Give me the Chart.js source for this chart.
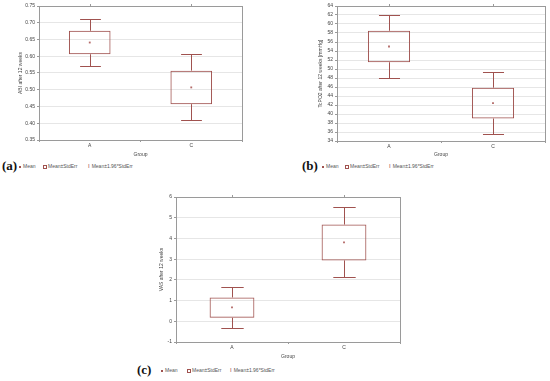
<!DOCTYPE html>
<html><head><meta charset="utf-8">
<script src="https://cdn.jsdelivr.net/npm/chart.js@4"></script>
<style>
html,body{margin:0;padding:0;background:#fff;width:550px;height:381px;overflow:hidden;position:relative;font-family:"Liberation Sans",Arial,sans-serif;}
.box{position:absolute;}
.lg{position:absolute;font-size:5px;color:#555;white-space:nowrap;line-height:6px;}
.tag{position:absolute;font-family:"Liberation Serif","DejaVu Serif",serif;font-weight:bold;font-size:13px;color:#111;}
.sq{display:inline-block;width:4px;height:4px;border:0.8px solid #a0524f;box-sizing:border-box;vertical-align:-0.5px;margin-right:1px;}
.dot{display:inline-block;width:2px;height:2px;background:#a0524f;vertical-align:0.5px;margin-right:2px;}
.ib{display:inline-block;font-size:6px;color:#a0524f;margin-right:2px;}
</style></head>
<body>
<div class="box" style="left:0;top:0;"><canvas id="ca" width="250" height="158"></canvas></div>
<div class="box" style="left:295px;top:0;"><canvas id="cb" width="255" height="158"></canvas></div>
<div class="box" style="left:130px;top:190px;"><canvas id="cc" width="280" height="170"></canvas></div>

<div class="tag" style="left:2px;top:158px;">(a)</div>
<div class="lg" style="left:19px;top:163px;"><span class="dot"></span>Mean</div>
<div class="lg" style="left:43px;top:163px;"><span class="sq"></span>Mean±StdErr</div>
<div class="lg" style="left:88px;top:163px;"><span class="ib">I</span>Mean±1.96*StdErr</div>

<div class="tag" style="left:302px;top:158px;">(b)</div>
<div class="lg" style="left:322px;top:163px;"><span class="dot"></span>Mean</div>
<div class="lg" style="left:345px;top:163px;"><span class="sq"></span>Mean±StdErr</div>
<div class="lg" style="left:389px;top:163px;"><span class="ib">I</span>Mean±1.96*StdErr</div>

<div class="tag" style="left:137px;top:362px;">(c)</div>
<div class="lg" style="left:161px;top:367px;"><span class="dot"></span>Mean</div>
<div class="lg" style="left:187px;top:367px;"><span class="sq"></span>Mean±StdErr</div>
<div class="lg" style="left:230px;top:367px;"><span class="ib">I</span>Mean±1.96*StdErr</div>

<script>
const categories = ['A', 'C'];

// (a) ABI after 12 weeks
const abiMean   = [0.641, 0.507];
const abiSeLow  = [0.606, 0.457];
const abiSeHigh = [0.676, 0.557];
const abiCiLow  = [0.572, 0.409];
const abiCiHigh = [0.710, 0.606];
const abiTicks  = [0.35, 0.40, 0.45, 0.50, 0.55, 0.60, 0.65, 0.70, 0.75];

// (b) TcPO2 after 12 weeks [mmHg]
const tcpMean   = [55.0, 42.4];
const tcpSeLow  = [51.5, 39.0];
const tcpSeHigh = [58.5, 45.85];
const tcpCiLow  = [48.1, 35.6];
const tcpCiHigh = [62.0, 49.3];
const tcpTicks  = [34, 36, 38, 40, 42, 44, 46, 48, 50, 52, 54, 56, 58, 60, 62, 64];

// (c) VAS after 12 weeks
const vasMean   = [0.67, 3.81];
const vasSeLow  = [0.17, 2.94];
const vasSeHigh = [1.15, 4.67];
const vasCiLow  = [-0.30, 2.12];
const vasCiHigh = [1.64, 5.50];
const vasTicks  = [-1, 0, 1, 2, 3, 4, 5, 6];

const RED = '#a0524f';
const FRAME = '#9a9a9a';
const FONT = 'Liberation Sans';

const whiskerPlugin = {
  id: 'whiskers',
  afterDatasetsDraw(chart, args, opts) {
    const ctx = chart.ctx, x = chart.scales.x, y = chart.scales.y;
    const meta = chart.getDatasetMeta(0);
    ctx.save();
    ctx.strokeStyle = RED; ctx.lineWidth = 1;
    opts.lo.forEach((lo, i) => {
      const px = Math.round(x.getPixelForValue(i)) + 0.5;
      const half = meta.data[i].width / 4;
      const pairs = [[opts.boxHi[i], opts.hi[i]], [opts.boxLo[i], lo]];
      pairs.forEach(([a, b]) => {
        const ya = y.getPixelForValue(a), yb = Math.round(y.getPixelForValue(b)) + 0.5;
        ctx.beginPath(); ctx.moveTo(px, ya); ctx.lineTo(px, yb); ctx.stroke();
        ctx.beginPath(); ctx.moveTo(px - half, yb); ctx.lineTo(px + half, yb); ctx.stroke();
      });
    });
    ctx.restore();
  }
};

const framePlugin = {
  id: 'frame',
  afterDraw(chart) {
    const ctx = chart.ctx, a = chart.chartArea, x = chart.scales.x;
    ctx.save();
    ctx.strokeStyle = FRAME; ctx.lineWidth = 1;
    ctx.strokeRect(Math.round(a.left) + 0.5, Math.round(a.top) + 0.5, Math.round(a.right - a.left), Math.round(a.bottom - a.top));
    categories.forEach((c, i) => {
      const px = Math.round(x.getPixelForValue(i)) + 0.5;
      ctx.beginPath(); ctx.moveTo(px, a.top - 2); ctx.lineTo(px, a.top); ctx.stroke();
    });
    ctx.restore();
  }
};

function makeChart(id, d) {
  new Chart(document.getElementById(id), {
    type: 'bar',
    data: {
      labels: categories,
      datasets: [
        {
          type: 'bar',
          data: d.seLo.map((v, i) => [v, d.seHi[i]]),
          backgroundColor: 'rgba(255,255,255,0)',
          borderColor: RED, borderWidth: 1, borderSkipped: false,
          barPercentage: d.barPct, categoryPercentage: 1
        },
        {
          type: 'line',
          data: d.mean,
          showLine: false,
          pointStyle: 'rect', pointRadius: 1.3,
          pointBackgroundColor: '#b46a68', pointBorderColor: '#b46a68', pointBorderWidth: 0
        }
      ]
    },
    options: {
      responsive: false, animation: false, devicePixelRatio: 1,
      layout: { padding: { left: d.padL, right: d.padR, top: d.padT, bottom: 0 } },
      plugins: {
        legend: { display: false }, tooltip: { enabled: false },
        whiskers: { lo: d.ciLo, hi: d.ciHi, boxLo: d.seLo, boxHi: d.seHi }
      },
      scales: {
        x: {
          type: 'category', offset: true,
          grid: { drawOnChartArea: false, tickLength: 2, tickColor: FRAME },
          border: { color: FRAME },
          ticks: { font: { family: FONT, size: 5 }, color: '#444', padding: 1 },
          title: { display: true, text: 'Group', font: { family: FONT, size: 5 }, color: '#444', padding: 0 },
          afterFit: s => { s.height = d.xH; }
        },
        y: {
          min: d.ticks[0], max: d.ticks[d.ticks.length - 1],
          afterBuildTicks: s => { s.ticks = d.ticks.map(v => ({ value: v })); },
          grid: { color: '#e6e6e6', tickLength: 2, tickColor: FRAME },
          border: { color: FRAME },
          ticks: { font: { family: FONT, size: 5 }, color: '#444', padding: 2, callback: d.fmt },
          title: { display: true, text: d.title, font: { family: FONT, size: 5 }, color: '#444', padding: 0 },
          afterFit: s => { s.width = d.yW; }
        }
      }
    },
    plugins: [whiskerPlugin, framePlugin]
  });
}

makeChart('ca', {
  mean: abiMean, seLo: abiSeLow, seHi: abiSeHigh, ciLo: abiCiLow, ciHi: abiCiHigh, ticks: abiTicks,
  title: 'ABI after 12 weeks', fmt: v => v.toFixed(2),
  padL: 18, padR: 8, padT: 6, yW: 21, xH: 18, barPct: 0.41
});
makeChart('cb', {
  mean: tcpMean, seLo: tcpSeLow, seHi: tcpSeHigh, ciLo: tcpCiLow, ciHi: tcpCiHigh, ticks: tcpTicks,
  title: 'TcPO2 after 12 weeks [mmHg]', fmt: v => String(v),
  padL: 23, padR: 5, padT: 6, yW: 19, xH: 17, barPct: 0.405
});
makeChart('cc', {
  mean: vasMean, seLo: vasSeLow, seHi: vasSeHigh, ciLo: vasCiLow, ciHi: vasCiHigh, ticks: vasTicks,
  title: 'VAS after 12 weeks', fmt: v => String(v),
  padL: 29, padR: 10, padT: 7, yW: 17, xH: 18, barPct: 0.40
});
</script>
</body></html>
